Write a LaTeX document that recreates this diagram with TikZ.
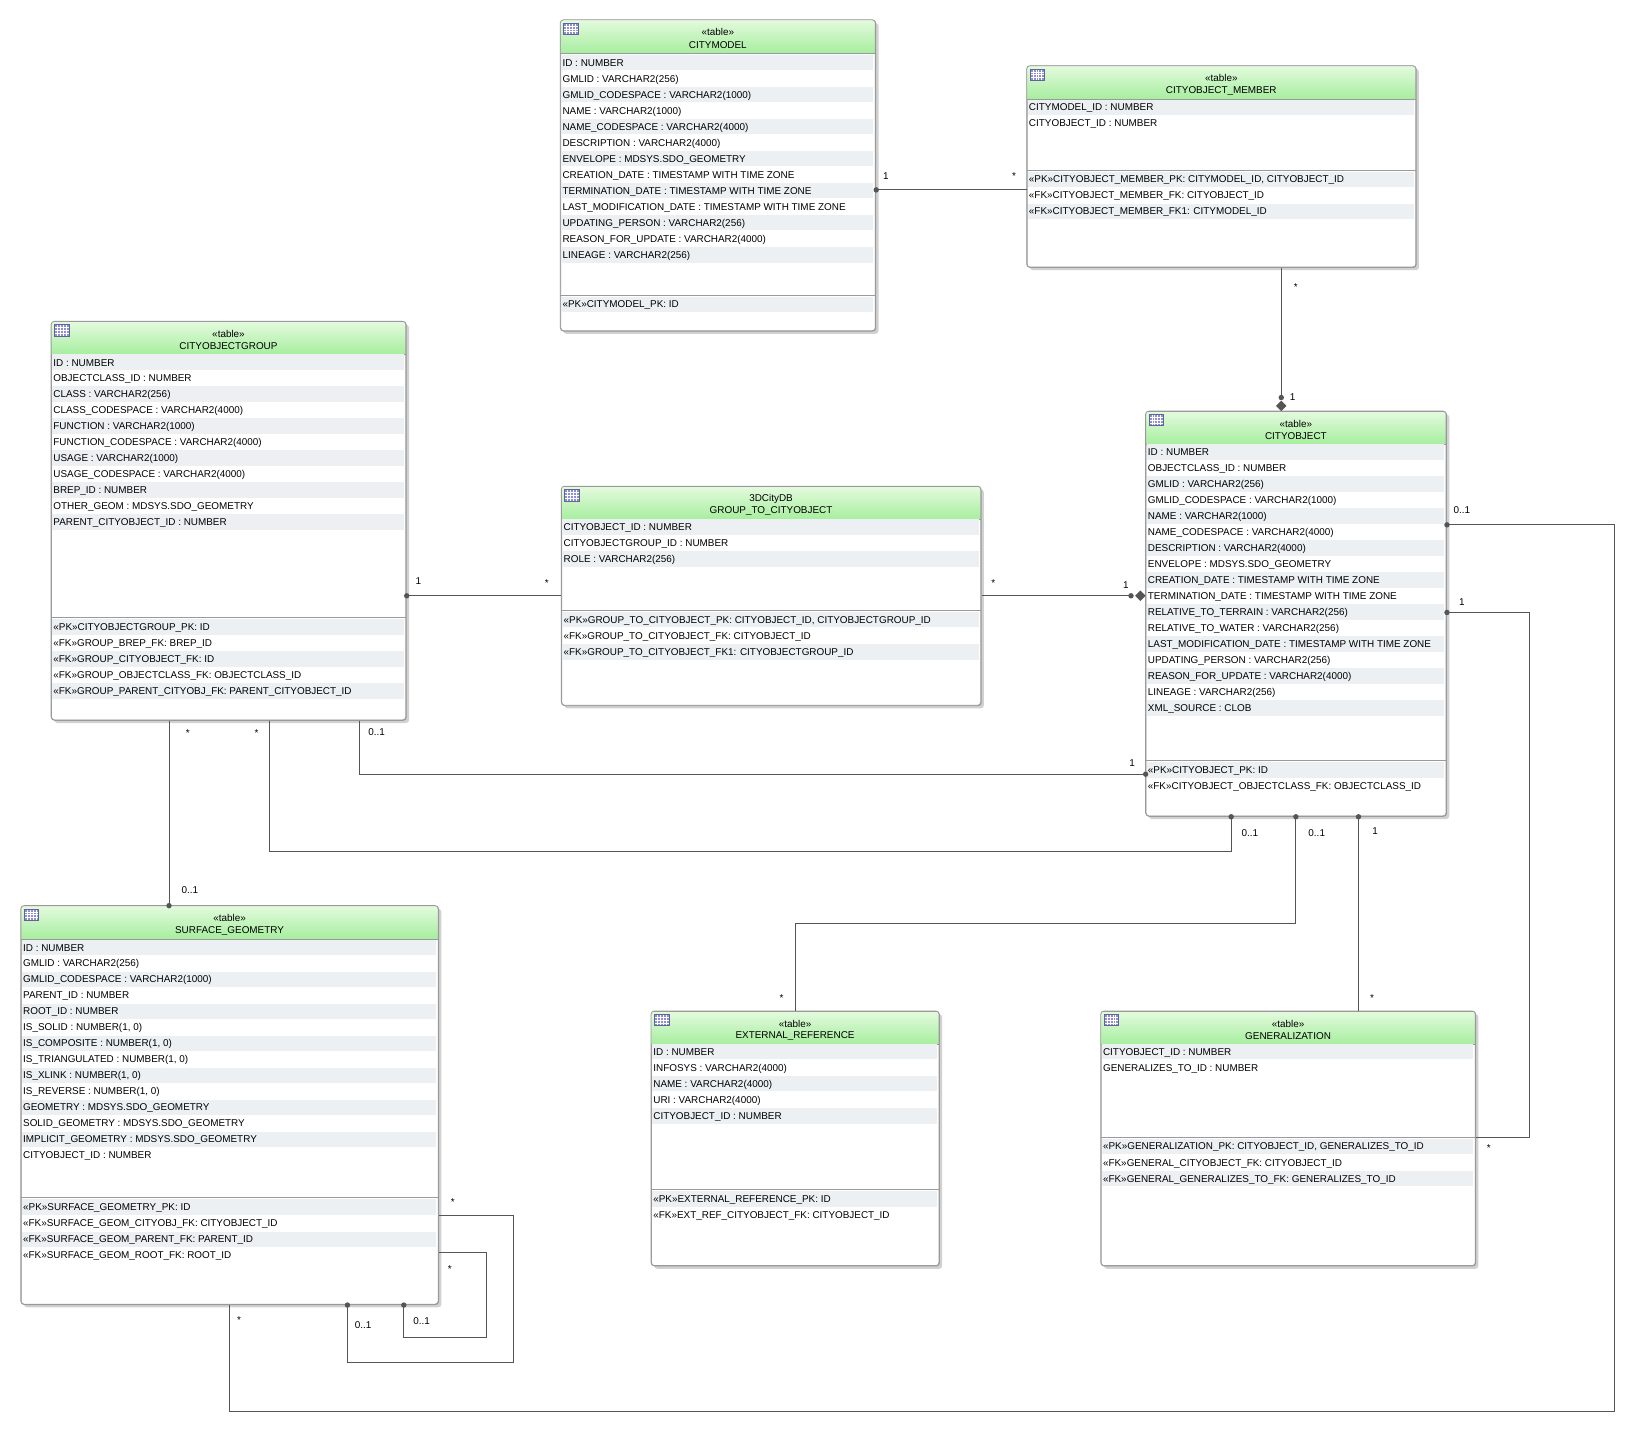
\documentclass[tikz,border=0pt]{standalone}
\usepackage{fontspec}
\setmainfont{Liberation Sans}
\usetikzlibrary{calc}
\definecolor{rowc}{HTML}{ECF0F3}
\definecolor{hdtop}{HTML}{E2FADC}
\definecolor{hdbot}{HTML}{A6EE9E}
\definecolor{edgec}{HTML}{9A9A9A}
\definecolor{linec}{HTML}{555555}
\definecolor{iconc}{HTML}{8E8ED8}
\tikzset{
  tablebox/.style={draw=edgec,fill=white,rounded corners=3pt,inner sep=0pt,line width=0.8pt},
  rowtext/.style={anchor=west,inner sep=0pt,font=\fontsize{9.5}{10}\selectfont},
  hdtext/.style={inner sep=0pt,font=\fontsize{9.5}{10}\selectfont},
  mult/.style={inner sep=0pt,font=\fontsize{9.5}{10}\selectfont},
  conn/.style={draw=linec,line width=0.8pt},
  enddot/.style={fill=linec,draw=none},
}
\newcommand\dbtable[7]{%
  \fill[black!18,rounded corners=3pt] (#2+3,#3+3) rectangle (#4+3,#5+3);
  \node[tablebox,anchor=north west,minimum width=#4-#2,minimum height=#5-#3] (#1) at (#2,#3) {};
  \shade[top color=hdtop,bottom color=hdbot] (#2+0.5,#3+1) rectangle (#4-0.5,#3+32);
  \draw[edgec,line width=0.8pt] (#2,#3+32) -- (#4,#3+32);
  \fill[iconc] (#2+3,#3+3) rectangle (#2+17,#3+14);
  \foreach \k in {1,2,3,4}{\draw[white,line width=0.3pt] (#2+3+\k*2.8,#3+3) -- (#2+3+\k*2.8,#3+14);}
  \foreach \k in {1,2,3}{\draw[white,line width=0.3pt] (#2+3,#3+3+\k*2.75) -- (#2+17,#3+3+\k*2.75);}
  \draw[iconc!70!black,line width=0.4pt] (#2+3,#3+3) rectangle (#2+17,#3+14);
  \node[hdtext] at ({(#2+#4)/2},#3+12) {#6};
  \node[hdtext] at ({(#2+#4)/2},#3+24) {#7};
}
\newcommand\dbrows[4]{%
  \foreach \t [count=\i] in {#4}{%
    \pgfmathsetmacro\yy{#3+(\i-1)*15.35}%
    \ifodd\i \fill[rowc] (#1+1,\yy-7.4) rectangle (#2-2,\yy+7.4);\fi
    \node[rowtext] at (#1+2,\yy+0.8) {\t};
  }%
}
\newcommand\dbsep[3]{\draw[edgec,line width=0.8pt] (#1,#3) -- (#2,#3);}
\newcommand\dbborder[4]{\draw[edgec,rounded corners=3pt,line width=0.8pt] (#1,#2) rectangle (#3,#4);}
\begin{document}
\begin{tikzpicture}[x=1pt,y=-1pt]
\useasboundingbox[fill=white] (0,0) rectangle (1568,1374);

% CITYMODEL
\dbtable{cm}{537}{19}{839}{317}{«table»}{CITYMODEL}
\dbrows{537}{839}{60}{ID : NUMBER,GMLID : VARCHAR2(256),GMLID\_CODESPACE : VARCHAR2(1000),NAME : VARCHAR2(1000),NAME\_CODESPACE : VARCHAR2(4000),DESCRIPTION : VARCHAR2(4000),ENVELOPE : MDSYS.SDO\_GEOMETRY,CREATION\_DATE : TIMESTAMP WITH TIME ZONE,TERMINATION\_DATE : TIMESTAMP WITH TIME ZONE,LAST\_MODIFICATION\_DATE : TIMESTAMP WITH TIME ZONE,UPDATING\_PERSON : VARCHAR2(256),REASON\_FOR\_UPDATE : VARCHAR2(4000),LINEAGE : VARCHAR2(256)}
\dbsep{537}{839}{283}
\dbrows{537}{839}{292}{«PK»CITYMODEL\_PK: ID}
\dbborder{537}{19}{839}{317}

% CITYOBJECT_MEMBER
\dbtable{com}{984}{63}{1357}{256}{«table»}{CITYOBJECT\_MEMBER}
\dbrows{984}{1357}{103}{CITYMODEL\_ID : NUMBER,CITYOBJECT\_ID : NUMBER}
\dbsep{984}{1357}{163}
\dbrows{984}{1357}{172}{{«PK»CITYOBJECT\_MEMBER\_PK: CITYMODEL\_ID, CITYOBJECT\_ID},«FK»CITYOBJECT\_MEMBER\_FK: CITYOBJECT\_ID,«FK»CITYOBJECT\_MEMBER\_FK1: CITYMODEL\_ID}
\dbborder{984}{63}{1357}{256}

% CITYOBJECTGROUP
\dbtable{cog}{49}{308}{389}{690}{«table»}{CITYOBJECTGROUP}
\dbrows{49}{389}{347}{ID : NUMBER,OBJECTCLASS\_ID : NUMBER,CLASS : VARCHAR2(256),CLASS\_CODESPACE : VARCHAR2(4000),FUNCTION : VARCHAR2(1000),FUNCTION\_CODESPACE : VARCHAR2(4000),USAGE : VARCHAR2(1000),USAGE\_CODESPACE : VARCHAR2(4000),BREP\_ID : NUMBER,OTHER\_GEOM : MDSYS.SDO\_GEOMETRY,PARENT\_CITYOBJECT\_ID : NUMBER}
\dbsep{49}{389}{592}
\dbrows{49}{389}{601}{«PK»CITYOBJECTGROUP\_PK: ID,«FK»GROUP\_BREP\_FK: BREP\_ID,«FK»GROUP\_CITYOBJECT\_FK: ID,«FK»GROUP\_OBJECTCLASS\_FK: OBJECTCLASS\_ID,«FK»GROUP\_PARENT\_CITYOBJ\_FK: PARENT\_CITYOBJECT\_ID}
\dbborder{49}{308}{389}{690}

% GROUP_TO_CITYOBJECT
\dbtable{g2c}{538}{466}{940}{676}{3DCityDB}{GROUP\_TO\_CITYOBJECT}
\dbrows{538}{940}{505}{CITYOBJECT\_ID : NUMBER,CITYOBJECTGROUP\_ID : NUMBER,ROLE : VARCHAR2(256)}
\dbsep{538}{940}{585}
\dbrows{538}{940}{594}{{«PK»GROUP\_TO\_CITYOBJECT\_PK: CITYOBJECT\_ID, CITYOBJECTGROUP\_ID},«FK»GROUP\_TO\_CITYOBJECT\_FK: CITYOBJECT\_ID,«FK»GROUP\_TO\_CITYOBJECT\_FK1: CITYOBJECTGROUP\_ID}
\dbborder{538}{466}{940}{676}

% CITYOBJECT
\dbtable{co}{1098}{394}{1386}{782}{«table»}{CITYOBJECT}
\dbrows{1098}{1386}{433}{ID : NUMBER,OBJECTCLASS\_ID : NUMBER,GMLID : VARCHAR2(256),GMLID\_CODESPACE : VARCHAR2(1000),NAME : VARCHAR2(1000),NAME\_CODESPACE : VARCHAR2(4000),DESCRIPTION : VARCHAR2(4000),ENVELOPE : MDSYS.SDO\_GEOMETRY,CREATION\_DATE : TIMESTAMP WITH TIME ZONE,TERMINATION\_DATE : TIMESTAMP WITH TIME ZONE,RELATIVE\_TO\_TERRAIN : VARCHAR2(256),RELATIVE\_TO\_WATER : VARCHAR2(256),LAST\_MODIFICATION\_DATE : TIMESTAMP WITH TIME ZONE,UPDATING\_PERSON : VARCHAR2(256),REASON\_FOR\_UPDATE : VARCHAR2(4000),LINEAGE : VARCHAR2(256),XML\_SOURCE : CLOB}
\dbsep{1098}{1386}{729}
\dbrows{1098}{1386}{738}{«PK»CITYOBJECT\_PK: ID,«FK»CITYOBJECT\_OBJECTCLASS\_FK: OBJECTCLASS\_ID}
\dbborder{1098}{394}{1386}{782}

% SURFACE_GEOMETRY
\dbtable{sg}{20}{868}{420}{1250}{«table»}{SURFACE\_GEOMETRY}
\dbrows{20}{420}{908}{ID : NUMBER,GMLID : VARCHAR2(256),GMLID\_CODESPACE : VARCHAR2(1000),PARENT\_ID : NUMBER,ROOT\_ID : NUMBER,{IS\_SOLID : NUMBER(1, 0)},{IS\_COMPOSITE : NUMBER(1, 0)},{IS\_TRIANGULATED : NUMBER(1, 0)},{IS\_XLINK : NUMBER(1, 0)},{IS\_REVERSE : NUMBER(1, 0)},GEOMETRY : MDSYS.SDO\_GEOMETRY,SOLID\_GEOMETRY : MDSYS.SDO\_GEOMETRY,IMPLICIT\_GEOMETRY : MDSYS.SDO\_GEOMETRY,CITYOBJECT\_ID : NUMBER}
\dbsep{20}{420}{1148}
\dbrows{20}{420}{1157}{«PK»SURFACE\_GEOMETRY\_PK: ID,«FK»SURFACE\_GEOM\_CITYOBJ\_FK: CITYOBJECT\_ID,«FK»SURFACE\_GEOM\_PARENT\_FK: PARENT\_ID,«FK»SURFACE\_GEOM\_ROOT\_FK: ROOT\_ID}
\dbborder{20}{868}{420}{1250}

% EXTERNAL_REFERENCE
\dbtable{er}{624}{969}{900}{1213}{«table»}{EXTERNAL\_REFERENCE}
\dbrows{624}{900}{1008}{ID : NUMBER,INFOSYS : VARCHAR2(4000),NAME : VARCHAR2(4000),URI : VARCHAR2(4000),CITYOBJECT\_ID : NUMBER}
\dbsep{624}{900}{1140}
\dbrows{624}{900}{1149}{«PK»EXTERNAL\_REFERENCE\_PK: ID,«FK»EXT\_REF\_CITYOBJECT\_FK: CITYOBJECT\_ID}
\dbborder{624}{969}{900}{1213}

% GENERALIZATION
\dbtable{gen}{1055}{969}{1414}{1213}{«table»}{GENERALIZATION}
\dbrows{1055}{1414}{1008}{CITYOBJECT\_ID : NUMBER,GENERALIZES\_TO\_ID : NUMBER}
\dbsep{1055}{1414}{1090}
\dbrows{1055}{1414}{1099}{{«PK»GENERALIZATION\_PK: CITYOBJECT\_ID, GENERALIZES\_TO\_ID},«FK»GENERAL\_CITYOBJECT\_FK: CITYOBJECT\_ID,«FK»GENERAL\_GENERALIZES\_TO\_FK: GENERALIZES\_TO\_ID}
\dbborder{1055}{969}{1414}{1213}

% ---------- connectors ----------
\draw[conn] (cm.east |- 0,182) -- (com.west |- 0,182);
\fill[enddot] (cm.east |- 0,182) circle (2.6);
\node[mult] at (849,169) {1};
\node[mult] at (972,169) {*};
\draw[conn] (com.south -| 1228,0) -- (1228,381);
\fill[enddot] (1228,381) circle (2.6);
\fill[linec] (co.north -| 1228,0) -- (1223,389) -- (1228,384) -- (1233,389) -- cycle;
\node[mult] at (1242,275) {*};
\node[mult] at (1239,381) {1};
\draw[conn] (cog.east |- 0,571) -- (g2c.west |- 0,571);
\fill[enddot] (cog.east |- 0,571) circle (2.6);
\node[mult] at (401,557) {1};
\node[mult] at (524,559) {*};
\draw[conn] (g2c.east |- 0,571) -- (1084,571);
\fill[enddot] (1084,571) circle (2.6);
\fill[linec] (co.west |- 0,571) -- (1093,566) -- (1088,571) -- (1093,576) -- cycle;
\node[mult] at (952,559) {*};
\node[mult] at (1079,561) {1};
\draw[conn] (cog.south -| 344,0) |- (co.west |- 0,742);
\fill[enddot] (co.west |- 0,742) circle (2.6);
\node[mult] at (361,702) {0..1};
\node[mult] at (1085,731) {1};
\draw[conn] (cog.south -| 258,0) -- (258,816) -| (co.south -| 1180,0);
\fill[enddot] (co.south -| 1180,0) circle (2.6);
\node[mult] at (246,703) {*};
\node[mult] at (1198,798) {0..1};
\draw[conn] (cog.south -| 162,0) -- (sg.north -| 162,0);
\fill[enddot] (sg.north -| 162,0) circle (2.6);
\node[mult] at (180,703) {*};
\node[mult] at (182,853) {0..1};
\draw[conn] (co.south -| 1242,0) -- (1242,885) -| (er.north -| 762,0);
\fill[enddot] (co.south -| 1242,0) circle (2.6);
\node[mult] at (1262,798) {0..1};
\node[mult] at (749,957) {*};
\draw[conn] (co.south -| 1302,0) -- (gen.north -| 1302,0);
\fill[enddot] (co.south -| 1302,0) circle (2.6);
\node[mult] at (1318,797) {1};
\node[mult] at (1315,957) {*};
\draw[conn] (co.east |- 0,587) -- (1466,587) |- (gen.east |- 0,1090);
\fill[enddot] (co.east |- 0,587) circle (2.6);
\node[mult] at (1401,577) {1};
\node[mult] at (1427,1100) {*};
\draw[conn] (co.east |- 0,503) -- (1547,503) -- (1547,1353) -| (sg.south -| 220,0);
\fill[enddot] (co.east |- 0,503) circle (2.6);
\node[mult] at (1401,489) {0..1};
\node[mult] at (229,1265) {*};
\draw[conn] (sg.east |- 0,1165) -- (492,1165) -- (492,1306) -| (sg.south -| 333,0);
\fill[enddot] (sg.south -| 333,0) circle (2.6);
\node[mult] at (434,1152) {*};
\node[mult] at (348,1270) {0..1};
\draw[conn] (sg.east |- 0,1200) -- (466,1200) -- (466,1282) -| (sg.south -| 387,0);
\fill[enddot] (sg.south -| 387,0) circle (2.6);
\node[mult] at (431,1216) {*};
\node[mult] at (404,1266) {0..1};
\end{tikzpicture}
\end{document}
